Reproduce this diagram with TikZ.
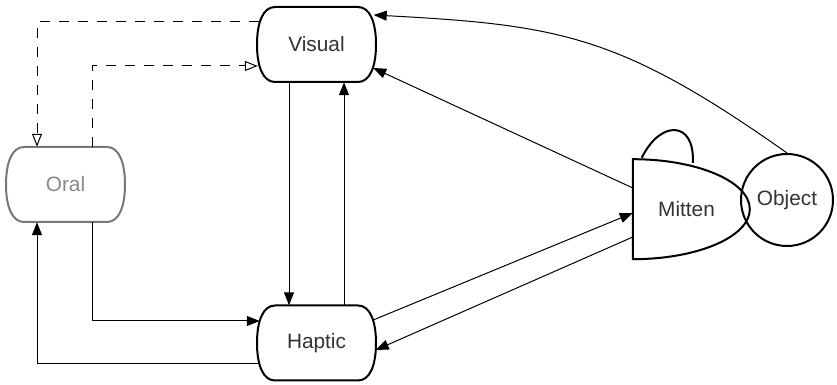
\documentclass[tikz,border=0pt]{standalone}
\usepackage{fontspec}
\setmainfont{Liberation Sans}
\usetikzlibrary{arrows.meta}
\definecolor{oralgray}{HTML}{777777}
\definecolor{oraltext}{HTML}{888888}
\definecolor{labelgray}{HTML}{333333}

\begin{document}
\begin{tikzpicture}
[x=1pt,y=1pt,
  nodedecorate/.style={shape=rectangle,inner sep=0pt,minimum width=119pt,
    minimum height=75pt,font=\fontsize{20.8pt}{25pt}\selectfont},
  outlinedecorate/.style={line width=2pt,line join=round},
  arrowdecorate/.style={-{Triangle[length=13pt,width=10pt]},line width=1pt},
  dasheddecorate/.style={-{Triangle[open,length=13pt,width=10pt]},line width=1pt,
    dash pattern=on 10pt off 9pt},
  loopdecorate/.style={line width=2pt}]
\useasboundingbox (0,0) rectangle (837,385);
%% nodes or vertices
\foreach \nodename/\x/\y/\nodetext/\nodecolor/\labelcolor in {
  visual/316.5/340.5/Visual/black/labelgray,
  oral/65.5/200.5/Oral/oralgray/oraltext,
  haptic/316.5/42/Haptic/black/labelgray} {
  \node (\nodename) at (\x,\y) [nodedecorate,text=\labelcolor] {\nodetext};
  \draw [outlinedecorate,draw=\nodecolor,shift={(\nodename.center)}]
    (-41.5,37.5) -- (41.5,37.5) .. controls (53.5,37.5) and (59.5,22) .. (59.5,0)
    .. controls (59.5,-22) and (53.5,-37.5) .. (41.5,-37.5) -- (-41.5,-37.5)
    .. controls (-53.5,-37.5) and (-59.5,-22) .. (-59.5,0)
    .. controls (-59.5,22) and (-53.5,37.5) .. (-41.5,37.5) -- cycle;
}
\node (mitten) at (686.5,176) [nodedecorate,minimum width=107pt,minimum height=100pt,
  text=labelgray] {Mitten};
\draw [outlinedecorate] (mitten.north west) -- (mitten.south west)
  arc[start angle=-90,end angle=90,x radius=117pt,y radius=50pt] -- cycle;
\node (object) at (787,185) [nodedecorate,shape=circle,draw,line width=2pt,
  minimum width=92pt,minimum height=92pt,text=labelgray] {Object};
%% edges or lines
\draw [dasheddecorate] ([xshift=2.5pt,yshift=22.5pt]visual.west) -| ([xshift=-28.5pt]oral.north);
\draw [dasheddecorate] ([xshift=26.5pt]oral.north) |- ([xshift=1pt,yshift=-21.5pt]visual.west);
\draw [arrowdecorate] ([xshift=-27.5pt]visual.south) -- ([xshift=-27.5pt]haptic.north);
\draw [arrowdecorate] ([xshift=27.5pt]haptic.north) -- ([xshift=27.5pt]visual.south);
\draw [arrowdecorate] ([xshift=26.5pt]oral.south) |- ([xshift=3pt,yshift=22pt]haptic.west);
\draw [arrowdecorate] ([xshift=2.5pt,yshift=-21pt]haptic.west) -| ([xshift=-28.5pt]oral.south);
\draw [arrowdecorate] ([xshift=-3pt,yshift=23pt]haptic.east) -- ([yshift=-4pt]mitten.west);
\draw [arrowdecorate] ([yshift=-28pt]mitten.west) -- ([xshift=-0.5pt,yshift=-7pt]haptic.east);
\draw [arrowdecorate] ([yshift=21pt]mitten.west) -- ([xshift=-3pt,yshift=-23.5pt]visual.east);
\draw [arrowdecorate] (object.north) .. controls (620,350) and (560,360)
  .. ([xshift=-2.5pt,yshift=29.5pt]visual.east);
\draw [loopdecorate] ([xshift=9pt,yshift=1pt]mitten.north west) .. controls (660,265) and (695,265)
  .. ([xshift=60pt,yshift=-4pt]mitten.north west);
\end{tikzpicture}
\end{document}
